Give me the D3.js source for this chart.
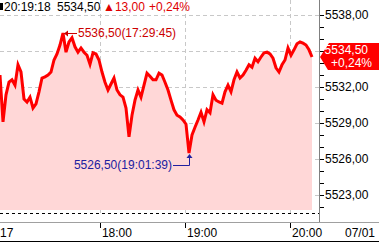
<!DOCTYPE html>
<html>
<head>
<meta charset="utf-8">
<script src="https://cdn.jsdelivr.net/npm/d3@7"></script>
<style>
  body { margin: 0; background: #fff; }
  svg { display: block; font-family: "Liberation Sans", Arial, sans-serif; }
</style>
</head>
<body>
<div id="chart-area"></div>
<script>
// price samples, evenly spaced in time index (tick chart)
const prices = [
    5533.00, 5529.10, 5531.35, 5532.40, 5532.60, 5532.15, 5533.85, 5533.25, 5531.00, 5530.75,
    5531.15, 5530.25, 5530.60, 5531.60, 5532.75, 5532.85, 5533.00, 5533.25, 5534.25, 5534.75,
    5535.50, 5536.50, 5534.90, 5535.75, 5536.10, 5535.35, 5534.90, 5535.25, 5534.90, 5534.65,
    5533.90, 5534.85, 5534.75, 5534.25, 5533.25, 5532.40, 5531.75, 5532.25, 5532.75, 5531.75,
    5531.35, 5531.15, 5530.25, 5527.85, 5529.65, 5530.90, 5531.75, 5531.15, 5532.15, 5533.15,
    5532.90, 5532.60, 5532.60, 5533.15, 5533.00, 5532.40, 5531.75, 5530.90, 5530.10, 5529.65,
    5529.50, 5529.25, 5528.90, 5526.50, 5528.00, 5528.65, 5529.25, 5529.90, 5529.10, 5530.10,
    5529.85, 5531.35, 5530.90, 5530.75, 5530.65, 5531.60, 5532.15, 5531.60, 5532.60, 5533.25,
    5532.75, 5533.00, 5533.40, 5533.85, 5533.65, 5534.40, 5534.10, 5534.50, 5534.85, 5534.90,
    5534.75, 5534.40, 5533.60, 5533.25, 5533.85, 5534.25, 5535.25, 5534.65, 5535.10, 5535.60,
    5535.75, 5535.65, 5535.50, 5535.10, 5534.50
];

// time axis labels at sample index
const timeTicks = [
    { label: "17", idx: 0 },
    { label: "18:00", idx: 33.3 },
    { label: "19:00", idx: 61.7 },
    { label: "20:00", idx: 96.7 }
];
const dateLabel = "07/01";

const priceTicks = [5523, 5526, 5529, 5532, 5535, 5538];

const maxTime = "17:29:45";
const minTime = "19:01:39";
const lastTime = "20:19:18";
const lastPrice = 5534.50;
const change = 13.00;
const changePct = 0.24;

const W = 379, H = 243;
const plotR = 320, plotB = 210;

const fmt = v => d3.format(".2f")(v).replace(".", ",");

const svg = d3.select("#chart-area").append("svg")
    .attr("width", W).attr("height", H);

const x = d3.scaleLinear().domain([0, prices.length - 1]).range([0, 312]);
const y = d3.scaleLinear().domain([5532, 5538]).range([87, 15]);

// grid
svg.append("g").selectAll("line")
    .data(priceTicks)
    .join("line")
    .attr("x1", 0).attr("x2", plotR - 1)
    .attr("y1", d => Math.round(y(d)) + 0.5).attr("y2", d => Math.round(y(d)) + 0.5)
    .attr("stroke", "#c8c8c8").attr("stroke-dasharray", "4,3");

svg.append("g").selectAll("line")
    .data(timeTicks.slice(1))
    .join("line")
    .attr("x1", d => Math.round(x(d.idx)) + 0.5).attr("x2", d => Math.round(x(d.idx)) + 0.5)
    .attr("y1", 0).attr("y2", 213)
    .attr("stroke", "#c8c8c8").attr("stroke-dasharray", "4,3");

// area + line
const area = d3.area()
    .x((d, i) => x(i))
    .y0(plotB)
    .y1(d => y(d));

svg.append("path")
    .datum(prices)
    .attr("fill", "#ffd7d7")
    .attr("d", area);

const line = d3.line()
    .x((d, i) => x(i))
    .y(d => y(d));

svg.append("path")
    .datum(prices)
    .attr("fill", "none")
    .attr("stroke", "#ff0000")
    .attr("stroke-width", 3)
    .attr("stroke-linejoin", "miter")
    .attr("d", line);

// bottom dashed line
svg.append("line")
    .attr("x1", 0).attr("x2", plotR - 1)
    .attr("y1", 213.5).attr("y2", 213.5)
    .attr("stroke", "#000").attr("stroke-dasharray", "3,3");

// right axis
const yAxis = svg.append("g");
yAxis.append("line")
    .attr("x1", plotR - 0.5).attr("x2", plotR - 0.5)
    .attr("y1", 0).attr("y2", 222)
    .attr("stroke", "#808080");

const minor = d3.range(5522, 5539, 1).filter(v => y(v) > 2 && y(v) < 218);
yAxis.selectAll(".minor")
    .data(minor)
    .join("line")
    .attr("class", "minor")
    .attr("x1", plotR).attr("x2", plotR + 4)
    .attr("y1", d => Math.round(y(d)) + 0.5).attr("y2", d => Math.round(y(d)) + 0.5)
    .attr("stroke", "#000");

yAxis.selectAll("text")
    .data(priceTicks.filter(d => d !== 5535))
    .join("text")
    .attr("x", plotR + 5)
    .attr("y", d => y(d) + 4)
    .attr("font-size", 12)
    .attr("fill", "#000")
    .text(fmt);

// bottom axis
svg.append("line")
    .attr("x1", 0).attr("x2", W)
    .attr("y1", 222.5).attr("y2", 222.5)
    .attr("stroke", "#a0a0a0");
svg.append("line")
    .attr("x1", 0).attr("x2", W)
    .attr("y1", 241.5).attr("y2", 241.5)
    .attr("stroke", "#000");

const xAxis = svg.append("g");
xAxis.selectAll("line")
    .data(timeTicks.slice(1))
    .join("line")
    .attr("x1", d => Math.round(x(d.idx)) + 0.5).attr("x2", d => Math.round(x(d.idx)) + 0.5)
    .attr("y1", 223).attr("y2", 228)
    .attr("stroke", "#000");
xAxis.selectAll("text")
    .data(timeTicks)
    .join("text")
    .attr("x", d => d.idx === 0 ? 0 : x(d.idx) + 2)
    .attr("y", 237)
    .attr("font-size", 12)
    .text(d => d.label);
xAxis.append("text")
    .attr("x", 375).attr("y", 237)
    .attr("text-anchor", "end")
    .attr("font-size", 12)
    .text(dateLabel);

// max / min annotations
const iMax = d3.maxIndex(prices), iMin = d3.minIndex(prices);
const px = x(iMax), py = y(prices[iMax]);
svg.append("line")
    .attr("x1", px + 1).attr("x2", px + 14)
    .attr("y1", Math.round(py) + 0.5).attr("y2", Math.round(py) + 0.5)
    .attr("stroke", "#cc0000");
svg.append("path")
    .attr("d", `M${px + 1},${Math.round(py) + 0.5}l4,-3v6z`)
    .attr("fill", "#cc0000");
svg.append("text")
    .attr("x", px + 15).attr("y", py + 4)
    .attr("font-size", 12)
    .attr("fill", "#cc0000")
    .text(`${fmt(prices[iMax])}(${maxTime})`);

const mx = x(iMin), my = y(prices[iMin]);
svg.append("path")
    .attr("d", `M${mx - 16},${my + 12.5}H${Math.round(mx) + 0.5}V${my + 2}`)
    .attr("fill", "none")
    .attr("stroke", "#2020a0");
svg.append("path")
    .attr("d", `M${Math.round(mx) + 0.5},${my + 1}l-3,4h6z`)
    .attr("fill", "#2020a0");
svg.append("text")
    .attr("x", mx - 17).attr("y", my + 16)
    .attr("text-anchor", "end")
    .attr("font-size", 12)
    .attr("fill", "#2020a0")
    .text(`${fmt(prices[iMin])}(${minTime})`);

// header
svg.append("rect").attr("x", 0).attr("y", 3).attr("width", 3).attr("height", 7).attr("fill", "#000");
const head = svg.append("text").attr("x", 4).attr("y", 11).attr("font-size", 12);
head.append("tspan").attr("fill", "#000").text(lastTime);
head.append("tspan").attr("x", 57).attr("fill", "#000").text(fmt(lastPrice));
head.append("tspan").attr("x", 103).attr("fill", "#e00000").text("▲" + fmt(change));
head.append("tspan").attr("x", 149).attr("fill", "#e00000").text("+" + fmt(changePct) + "%");

// last price box
const ly = y(lastPrice);
svg.append("path")
    .attr("d", `M${plotR},${ly} L${plotR + 9},${ly - 14} H${W} V${ly + 13} H${plotR + 8} Z`)
    .attr("fill", "#ff0000");
svg.append("text")
    .attr("x", 368).attr("y", ly - 3)
    .attr("text-anchor", "end")
    .attr("font-size", 12).attr("fill", "#fff")
    .text(fmt(lastPrice));
svg.append("text")
    .attr("x", 372).attr("y", ly + 10)
    .attr("text-anchor", "end")
    .attr("font-size", 12).attr("fill", "#fff")
    .text("+" + fmt(changePct) + "%");
</script>
</body>
</html>
